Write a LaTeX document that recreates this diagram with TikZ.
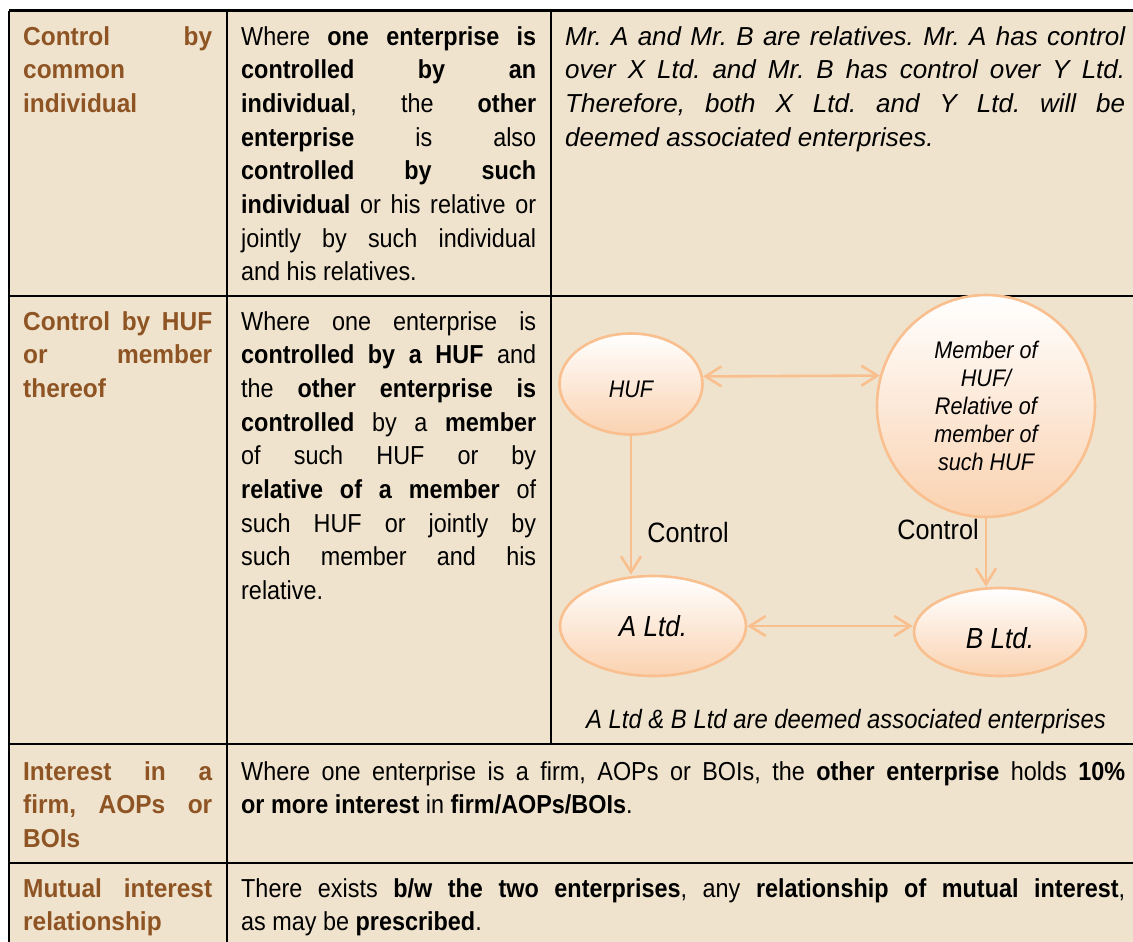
\documentclass[tikz,border=0pt]{standalone}
\usepackage{fontspec}
\setmainfont{Liberation Sans}[FakeStretch=0.9]
\newfontfamily\headfont{Liberation Sans}[FakeStretch=0.94]
\newfontfamily\widefont{Liberation Sans}
\usetikzlibrary{arrows.meta,shapes.geometric}
\definecolor{bg}{HTML}{EFE3CD}
\definecolor{brn}{HTML}{8E5424}
\definecolor{org}{HTML}{F9BF8F}
\definecolor{peach}{HTML}{FAD2B0}
\newcommand\jl[2]{\makebox[#1][s]{#2}}
\def\WA{189pt}
\def\WB{295pt}
\def\WC{560pt}
\def\WD{884pt}
\frenchspacing
\tikzset{
  cell/.style={anchor=base west, inner sep=0pt, align=left, font=\fontsize{26}{33.7}\selectfont\frenchspacing},
  head/.style={cell, text=brn, font=\headfont\fontsize{26}{33.7}\selectfont\bfseries},
  rule/.style={line width=2.6pt, black},
  ell/.style={ellipse, draw=org, line width=2.6pt, top color=white, bottom color=peach, inner sep=0pt},
  arr/.style={draw=org, line width=2.6pt, -{Straight Barb[length=16pt,width=20pt]}},
  darr/.style={draw=org, line width=2.6pt, {Straight Barb[length=16pt,width=20pt]}-{Straight Barb[length=16pt,width=20pt]}},
  lbl/.style={inner sep=0pt, font=\fontsize{28}{32}\selectfont},
}
\begin{document}
\begin{tikzpicture}[x=1pt,y=-1pt]
\useasboundingbox (0,0) rectangle (1133,942);
\fill[white] (0,0) rectangle (1133,942);
\fill[bg] (9,10.7) rectangle (1133,942);
% grid
\draw[rule] (9,10.7) -- (1133,10.7);
\draw[rule] (9,10.7) -- (9,942);
\draw[rule] (227,10.7) -- (227,942);
\draw[rule] (551,10.7) -- (551,744);
\draw[rule] (9,296) -- (1133,296);
\draw[rule] (9,744) -- (1133,744);
\draw[rule] (9,863) -- (1133,863);
% row 1 (anchor = baseline of last line)
\node[head] (h1) at (23,112.4) {\jl{\WA}{Control by}\\common\\individual};
\node[cell] (t1) at (241,280.9) {%
\jl{\WB}{Where \textbf{one enterprise is}}\\
\jl{\WB}{\textbf{controlled by an}}\\
\jl{\WB}{\textbf{individual}, the \textbf{other}}\\
\jl{\WB}{\textbf{enterprise} is also}\\
\jl{\WB}{\textbf{controlled by such}}\\
\jl{\WB}{\textbf{individual} or his relative or}\\
\jl{\WB}{jointly by such individual}\\
and his relatives.};
\node[cell, font=\widefont\fontsize{26}{33.7}\selectfont\itshape\frenchspacing] (e1) at (565,146.1) {%
\jl{\WC}{Mr. A and Mr. B are relatives. Mr. A has control}\\
\jl{\WC}{over X Ltd. and Mr. B has control over Y Ltd.}\\
\jl{\WC}{Therefore, both X Ltd. and Y Ltd. will be}\\
deemed associated enterprises.};
% row 2
\node[head] (h2) at (23,397.4) {\jl{\WA}{Control by HUF}\\\jl{\WA}{or member}\\thereof};
\node[cell] (t2) at (241,599.6) {%
\jl{\WB}{Where one enterprise is}\\
\jl{\WB}{\textbf{controlled by a HUF} and}\\
\jl{\WB}{the \textbf{other enterprise is}}\\
\jl{\WB}{\textbf{controlled} by a \textbf{member}}\\
\jl{\WB}{of such HUF or by}\\
\jl{\WB}{\textbf{relative of a member} of}\\
\jl{\WB}{such HUF or jointly by}\\
\jl{\WB}{such member and his}\\
relative.};
% diagram
\node[ell, minimum width=143pt, minimum height=101pt, text height=27pt, text depth=0pt, font=\fontsize{24}{28}\selectfont\itshape] (huf) at (631,384) {HUF};
\node[ell, minimum width=218pt, minimum height=222pt, align=center, font=\fontsize{24}{28}\selectfont\itshape] (mem) at (986,406) {Member of\\HUF/\\Relative of\\member of\\such HUF};
\node[ell, minimum width=186pt, minimum height=100pt, font=\fontsize{29}{34}\selectfont\itshape] (altd) at (653,626) {A Ltd.};
\node[ell, minimum width=172pt, minimum height=88pt, text height=32pt, text depth=0pt, font=\fontsize{29}{34}\selectfont\itshape] (bltd) at (1000,632) {B Ltd.};
\draw[darr] (huf.6.5) -- (mem.164);
\draw[arr] (huf.south) -- (huf.south |- altd.north);
\draw[arr] (mem.south) -- (mem.south |- bltd.north);
\draw[darr] (altd.east) -- (altd.east -| bltd.west);
\node[lbl] (c1) at (688,532) {Control};
\node[lbl] (c2) at (938,529) {Control};
\node[anchor=base, inner sep=0pt, font=\fontsize{26.5}{30}\selectfont\itshape] (cap) at (846,728) {A Ltd \& B Ltd are deemed associated enterprises};
% row 3
\node[head] (h3) at (23,847.4) {\jl{\WA}{Interest in a}\\\jl{\WA}{firm, AOPs or}\\BOIs};
\node[cell] (t3) at (241,813.7) {%
\jl{\WD}{Where one enterprise is a firm, AOPs or BOIs, the \textbf{other enterprise} holds \textbf{10\%}}\\
\textbf{or more interest} in \textbf{firm/AOPs/BOIs}.};
% row 4
\node[head] (h4) at (23,930.7) {\jl{\WA}{Mutual interest}\\relationship};
\node[cell] (t4) at (241,930.7) {%
\jl{\WD}{There exists \textbf{b/w the two enterprises}, any \textbf{relationship of mutual interest},}\\
as may be \textbf{prescribed}.};
\end{tikzpicture}
\end{document}
